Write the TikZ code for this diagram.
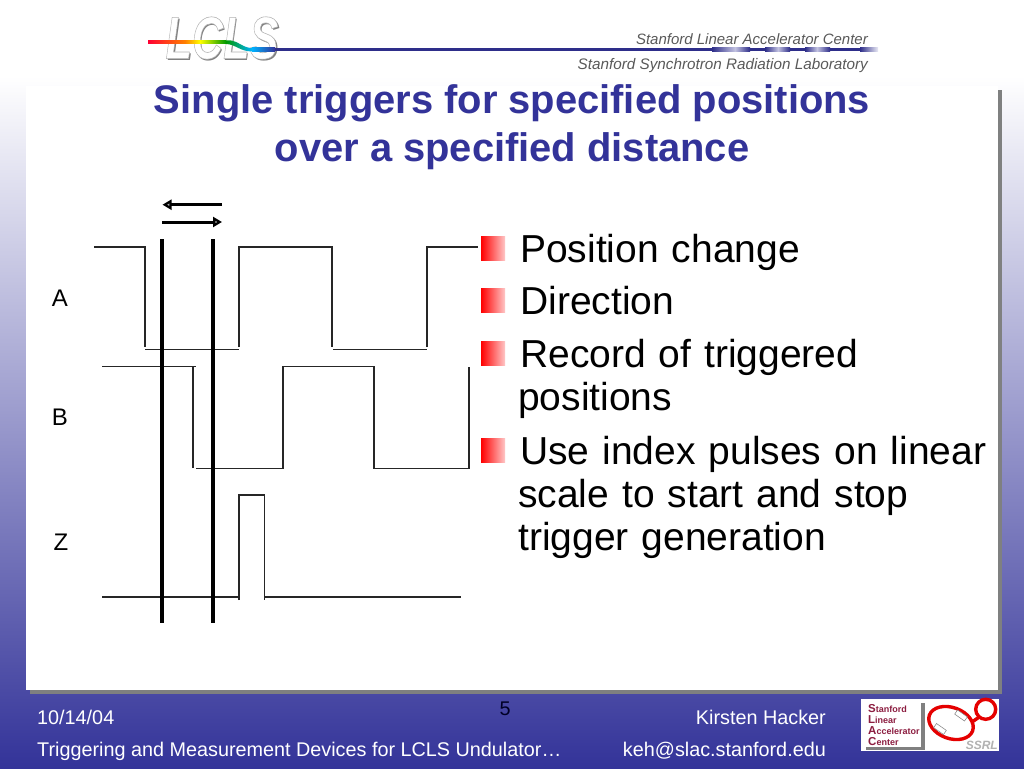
\documentclass[tikz,border=0pt]{standalone}
\usepackage{fontspec}
\setmainfont{Liberation Sans}
\usetikzlibrary{arrows.meta}
\definecolor{slideblue}{HTML}{333399}
\definecolor{frameshadow}{HTML}{7F8080}
\definecolor{slacred}{HTML}{8C1D40}
\tikzset{
	thinwave/.style={line width=1.4pt, color=black!85},
	marker/.style={line width=4pt, color=black},
	dirarrow/.style={line width=3pt, -{Triangle[length=9pt,width=10pt]}},
	sigtext/.style={font=\fontsize{24}{24}\selectfont},
	bodytext/.style={font=\fontsize{39}{43}\selectfont, anchor=north west, align=left, text width=490pt, inner sep=0pt},
	titletext/.style={font=\fontsize{39.9}{48}\selectfont\bfseries, color=slideblue, align=center},
	foottext/.style={font=\fontsize{19.8}{20}\selectfont, color=white},
	hdrtext/.style={color=black!65, anchor=east, inner sep=0pt},
	logoword/.style={font=\fontsize{60}{60}\selectfont\bfseries\itshape, xscale=0.72, transform shape, inner sep=0pt},
	slacline/.style={font=\fontsize{9}{9}\selectfont\bfseries, color=slacred, anchor=base west, inner sep=0pt},
	ringline/.style={line width=3.4pt, color=red!90!black},
	ringbox/.style={fill=white, draw=black!50, line width=0.5pt}
}
\newcommand{\bulletbox}[1]{\shade[left color=red, right color=red!22] (481,#1) rectangle (505,#1+24.5);}
\newcommand{\slacletter}[1]{{\fontsize{11.5}{9}\selectfont #1}}
\begin{document}
\begin{tikzpicture}[x=1pt, y=-1pt]
	\useasboundingbox (0,0) rectangle (1024,768);
	%%%%% BACKGROUND %%%%%
	\shade[top color=white, bottom color=slideblue] (0,76) rectangle (1024,768);
	\fill[frameshadow] (30,90) rectangle (1001.5,693.5);
	\fill[white] (26,86) rectangle (998,690);

	%%%%% HEADER %%%%%
	\node[logoword, text=black!50] (logoshadow) at (223.5,39.5) {LCLS};
	\node[logoword, text=white] (logotext) at (222,38) {\pgfsetstrokecolor{black!30}\pgfsetlinewidth{0.6pt}\special{pdf:code 2 Tr}LCLS\special{pdf:code 0 Tr}};
	\shade[left color=red!80!magenta, right color=orange] (148,40.5) rectangle (185,44);
	\shade[left color=orange, right color=yellow] (185,40.5) rectangle (200,44);
	\shade[left color=yellow, right color=green!60!black] (200,40.5) rectangle (226,44);
	\shade[left color=green!60!black, right color=cyan!70!blue] (226,40.5) -- (231,40.5) .. controls (238,41) and (243,48) .. (252,48) -- (252,51.5) .. controls (240,51.5) and (235,44) .. (226,44) -- cycle;
	\shade[left color=cyan!70!blue, right color=slideblue] (252,48) rectangle (275,51.5);
	\fill[slideblue!90!black] (275,48) rectangle (860,51.5);
	\foreach \sta/\stb/\stc in {712/735/750,765/778/790,805/817/830} {
		\shade[left color=slideblue!90!black, right color=slideblue!30] (\sta,48) rectangle (\stb,51.5);
		\shade[left color=slideblue!30, right color=slideblue!90!black] (\stb,48) rectangle (\stc,51.5);
	}
	\shade[left color=slideblue!90!black, right color=slideblue!10] (860,48) rectangle (878,51.5);
	\node[hdrtext, font=\fontsize{15}{15}\selectfont\itshape] (slac) at (868,39) {Stanford Linear Accelerator Center};
	\node[hdrtext, font=\fontsize{15.26}{15}\selectfont\itshape] (ssrl) at (868,65.5) {Stanford Synchrotron Radiation Laboratory};

	%%%%% TITLE %%%%%
	\node[titletext] (title) at (512,127) {Single triggers for specified positions\\over a specified distance};

	%%%%% WAVES %%%%%
	\draw[thinwave] (94,247) -- (145,247) -- (145,347);
	\draw[thinwave] (145,349.5) -- (239,349.5);
	\draw[thinwave] (239,347) -- (239,247) -- (332,247) -- (332,347);
	\draw[thinwave] (333,349.5) -- (427,349.5);
	\draw[thinwave] (427,347) -- (427,247) -- (478,247);

	\draw[thinwave] (102,366.5) -- (196,366.5);
	\draw[thinwave] (193,366.5) -- (193,468);
	\draw[thinwave] (196,468.5) -- (283,468.5) -- (283,366.5) -- (374,366.5) -- (374,468.5);
	\draw[thinwave] (375,468.5) -- (469,468.5) -- (469,367);

	\draw[thinwave] (102,597) -- (239,597);
	\draw[thinwave] (239,600) -- (239,495) -- (264.5,495) -- (264.5,600);
	\draw[thinwave] (265,597) -- (461,597);

	\draw[marker] (162,239) -- (162,623);
	\draw[marker] (213,239) -- (213,623);

	\coordinate (arrowLa) at (222,204.7);
	\coordinate (arrowLb) at (162.5,204.7);
	\coordinate (arrowRa) at (162,222);
	\coordinate (arrowRb) at (222,222);
	\draw[dirarrow] (arrowLa) -- (arrowLb);
	\draw[dirarrow] (arrowRa) -- (arrowRb);

	\node[sigtext] (siga) at (60,298) {A};
	\node[sigtext] (sigb) at (60,417) {B};
	\node[sigtext] (sigz) at (61,542) {Z};

	%%%%% LIST %%%%%
	\bulletbox{236}
	\bulletbox{288}
	\bulletbox{341}
	\bulletbox{438}
	\node[bodytext] (itema) at (520,234.5) {Position change};
	\node[bodytext] (itemb) at (520,286.5) {Direction};
	\node[bodytext] (itemc) at (518,339.5) {\hspace*{2pt}Record of triggered\\positions};
	\node[bodytext] (itemd) at (518,436.5) {\hspace*{2pt}Use index pulses on linear\\scale to start and stop\\trigger generation};

	%%%%% FOOTER %%%%%
	\node[foottext, anchor=west, inner sep=0pt] (fdate) at (37,717) {10/14/04};
	\node[foottext, anchor=west, inner sep=0pt] (ftitle) at (37,751) {Triggering and Measurement Devices for LCLS Undulator…};
	\node[foottext, color=black!85!blue, inner sep=0pt] (fpage) at (505,709) {5};
	\node[foottext, anchor=east, inner sep=0pt] (fname) at (826,717) {Kirsten Hacker};
	\node[foottext, anchor=east, inner sep=0pt] (fmail) at (826,751) {keh@slac.stanford.edu};

	%%%%% SLAC LOGO %%%%%
	\fill[white] (861,699) rectangle (999,751);
	\fill[black!50] (866,703) rectangle (925,750);
	\fill[white] (861,699) rectangle (921,747);
	\node[slacline] (slaca) at (868,712) {\slacletter{S}tanford};
	\node[slacline] (slacb) at (868,723) {\slacletter{L}inear};
	\node[slacline] (slacc) at (868,734) {\slacletter{A}ccelerator};
	\node[slacline] (slacd) at (868,745) {\slacletter{C}enter};
	\draw[ringline, rotate around={-20:(951,723)}] (951,723) ellipse (23 and 15.5);
	\draw[ringline] (985.7,709.3) circle (10);
	\draw[ringline] (972,722) -- (980,716.5);
	\draw[ringbox, rotate around={-35:(961,715.5)}] (955,713) rectangle (967,718);
	\draw[ringbox, rotate around={-35:(940,729)}] (934,726.5) rectangle (946,731.5);
	\node[font=\fontsize{12}{12}\selectfont\bfseries\itshape, color=black!30, anchor=east, inner sep=0pt] (sslogo) at (998,745) {SSRL};
\end{tikzpicture}
\end{document}
